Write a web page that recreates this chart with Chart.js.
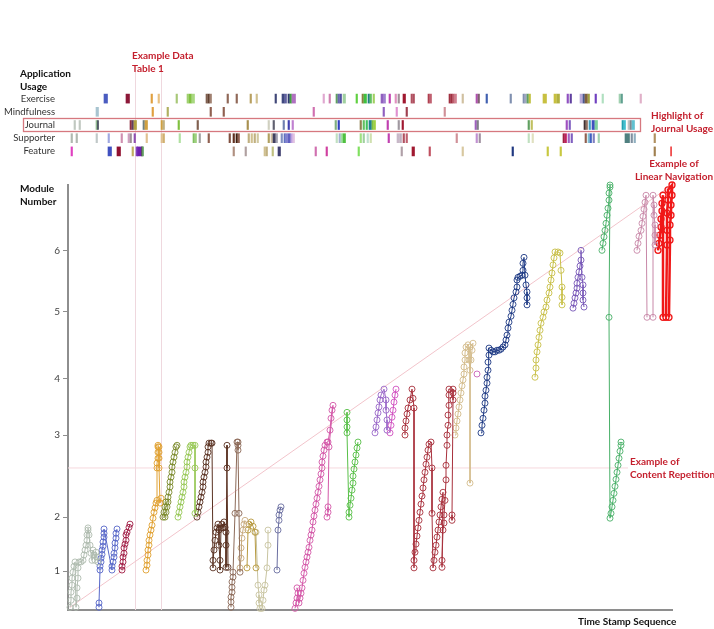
<!DOCTYPE html>
<html>
<head>
<meta charset="utf-8">
<script src="https://cdn.jsdelivr.net/npm/chart.js@4.4.1/dist/chart.umd.min.js"></script>
<style>
  body { margin: 0; background: #fff; width: 714px; height: 629px; position: relative; overflow: hidden; font-family: Lato, "Open Sans", sans-serif; }
  canvas { position: absolute; left: 0; }
  #main { top: 0; }
  #usage { top: 92px; }
  .lbl { position: absolute; font-weight: bold; font-size: 10px; line-height: 13px; color: #111; white-space: nowrap; }
  .note { color: #c41f2d; }
</style>
</head>
<body>
<canvas id="main" width="714" height="629"></canvas>
<canvas id="usage" width="714" height="66"></canvas>

<div class="lbl" style="left:20px;top:67px">Application<br>Usage</div>
<div class="lbl" style="left:20px;top:182px">Module<br>Number</div>
<div class="lbl" style="left:578px;top:615px">Time Stamp Sequence</div>
<div class="lbl note" style="left:132px;top:49px">Example Data<br>Table 1</div>
<div class="lbl note" style="left:651px;top:109px">Highlight of<br>Journal Usage</div>
<div class="lbl note" style="left:634px;top:157px;width:80px;text-align:center">Example of<br>Linear Navigation</div>
<div class="lbl note" style="left:630px;top:455px">Example of<br>Content Repetition</div>

<script>
// ---- application usage strips: [start, end] in time stamp units ----
var usageRows = ["Exercise", "Mindfulness", "Journal", "Supporter", "Feature"];

var exerciseUse = [[36,39.5],[58,61.5],[83,84.5],[90,91.5],[108,109.5],[119,120.5],[121,123.5],[124,126.5],[138,139.5],[140,141.5],[142,143.5],[159,160.5],[168,169.5],[182,183.5],[188,189.5],[207,208.5],[214,216.5],[217,218.5],[220,221.5],[222,223.5],[224,227.5],[255,256.5],[261,262.5],[268,269.5],[270,271.5],[272,273.5],[275,277.5],[288,289.5],[294,295.5],[296,298.5],[300,301.5],[302,303.5],[305,306.5],[313,315.5],[316,317.5],[321,322.5],[327,328.5],[330,331.5],[335,337.5],[343,344.5],[345,346.5],[360,361.5],[362,363.5],[381,382.5],[383,384.5],[385,386.5],[387,388.5],[394,395.5],[408,409.5],[410,411.5],[418,419.5],[442,443.5],[455,456.5],[457,458.5],[459,460.5],[461,462.5],[475,478.5],[486,488.5],[489,491.5],[499,500.5],[502,503.5],[512,514.5],[515,516.5],[517,519.5],[520,521.5],[527,528.5],[534,535.5],[551,552.5],[553,554.5],[572,573.5]];
var mindfulnessUse = [[28,30.5],[84,85.5],[99,100.5],[142,143.5],[155,156.5],[245,246.5],[315,316.5],[328,329.5],[338,339.5],[376,377.5]];
var journalUse = [[6,7.5],[11,12.5],[28,29.5],[29.5,30.5],[62,63.5],[64,65.5],[66,68.5],[75,76.5],[77,79.5],[93,94.5],[95,96.5],[110,111.5],[129,130.5],[179,180.5],[200,201.5],[205,206.5],[215,216.5],[220,221.5],[224,225.5],[267,268.5],[270,271.5],[292,293.5],[295,296.5],[298,299.5],[301,303.5],[304,305.5],[306,307.5],[319,320.5],[330,331.5],[334,335.5],[407,408.5],[409,410.5],[460,461.5],[463,464.5],[498,499.5],[501,502.5],[516,517.5],[518,519.5],[521,522.5],[524,526.5],[527,529.5],[554,555.5],[556,557.5],[560,561.5],[562,563.5],[564,566.5]];
var supporterUse = [[3,4.5],[8,9.5],[28,29.5],[40,41.5],[53,54.5],[60,61.5],[62,63.5],[66,67.5],[78,79.5],[93,94.5],[95,96.5],[111,112.5],[125,126.5],[127,128.5],[131,132.5],[140,141.5],[161,162.5],[165,166.5],[168,169.5],[170,171.5],[180,181.5],[183,184.5],[186,187.5],[189,190.5],[200,201.5],[203,204.5],[205,207.5],[208,209.5],[213,214.5],[216,217.5],[218,219.5],[220,222.5],[223,224.5],[225,226.5],[268,269.5],[271,272.5],[273,274.5],[275,277.5],[292,293.5],[295,296.5],[299,300.5],[302,303.5],[320,321.5],[329,331.5],[332,333.5],[335,336.5],[338,339.5],[388,389.5],[408,409.5],[411,412.5],[460,461.5],[464,465.5],[495,496.5],[497,498.5],[500,501.5],[503,504.5],[517,518.5],[520,521.5],[522,523.5],[525,526.5],[530,531.5],[557,561.5],[563,564.5],[566,567.5],[586,587.5]];
var featureUse = [[3,4.5],[40,43.5],[49,52.5],[64,65.5],[68,69.5],[69.5,73.5],[73.5,74.5],[74.5,75.5],[165,166.5],[177,178.5],[196,197.5],[198,199.5],[204,205.5],[210,212.5],[247,248.5],[258,259.5],[290,291.5],[333,334.5],[344,346.5],[361,362.5],[394,395.5],[444,445.5],[479,480.5],[492,493.5],[586,587.5],[602.5,604]];

// colour of each mark, same order as above
var exerciseHue = ['#4a5cc0','#8c1838','#e0a040','#e8c080','#a8c878','#a0d070','#80c040','#a8d880','#806050','#604030','#a08070','#906858','#906858','#b8a060','#d0c090','#404878','#404880','#6060a0','#303870','#40a040','#b070c0','#e0a8d0','#d080b0','#60a060','#6868b0','#5050a0','#a0d0a0','#60d040','#888040','#40c040','#208080','#60c060','#a0d060','#9060c0','#a080d0','#c040b0','#e090c0','#a09098','#a01830','#b05060','#b05060','#b04050','#c06070','#a03040','#a03040','#c06070','#d08090','#d0c0a0','#b050b0','#806070','#4060b0','#8090b0','#8090b0','#a0a8c0','#60a060','#c0c040','#c8c040','#c8c040','#b0b040','#9050c0','#6040a0','#b8a8d8','#4a5a90','#806040','#a0a040','#7040c0','#b0e0c0','#a0d0b0','#60a090','#e0b0c8'];
var mindfulnessHue = ['#a8c4d0','#e0a040','#b0b060','#906050','#906050','#d070b0','#9060c0','#e090d0','#a04050','#d09098'];
var journalHue = ['#c0c8c0','#c0c8c0','#90b890','#404858','#903040','#604060','#b0a040','#708080','#d0a040','#d0a040','#c0b080','#80c040','#806050','#a89050','#d0d0c0','#606070','#7080b0','#4040b0','#c080d0','#80b080','#3040c0','#908050','#60c060','#40c060','#208090','#80c040','#a0d040','#c040b0','#a098a0','#a01830','#a060c0','#808088','#60a060','#c0c060','#a050c0','#8060c0','#403030','#907060','#40a0c0','#4050c0','#80d0a0','#20a0b0','#40c0d0','#c0c0c0','#808890','#60c0d0'];
var supporterHue = ['#b0b8b0','#b0b8b0','#c0c8c8','#a0a8e0','#d090b0','#d0a0c0','#a09098','#9050b0','#e0c090','#e0c090','#d0b070','#b0e0a0','#80c060','#a0d080','#a0a0a0','#906050','#805040','#603020','#402010','#906050','#c0b080','#d0c090','#c0b080','#d0c8a0','#b0a060','#d0c0a0','#404060','#a0a0b0','#8090c0','#6070c0','#8080d0','#6060c0','#c0a0e0','#e0c0e0','#c0e0c0','#a0b0d0','#a0e0a0','#50c040','#a0e080','#a0d0a0','#c0e0d0','#d0e0b0','#c040b0','#c8b8c8','#c0b0c0','#b05060','#c06070','#d09098','#c090d0','#a090a0','#c0e0c0','#e0e0c0','#a02040','#c02060','#a060c0','#8060c0','#906050','#80c0d0','#4060c0','#8080c0','#a0d0b0','#508080','#8090a0','#90b0c0','#b09060'];
var featureHue = ['#e040c0','#4050c0','#901030','#c0b060','#8040c0','#7020b0','#505050','#60a060','#b09080','#b0a0a0','#d0c090','#c0b080','#c0c080','#404070','#d070b0','#d040a0','#80e060','#b0a0a8','#a01830','#c05060','#d8c8a0','#203880','#c8c840','#c8c840','#a08050','#f05050'];

// ---- module progress traces: [time stamp, module level] ----
var moduleTicks = [1, 2, 3.52, 4.56, 5.80, 6.93];
var moduleLabels = ["1", "2", "3", "4", "5", "6"];

var seqGray = [[2,.33],[3,.46],[3,.61],[4,.74],[4,.87],[5,.98],[6,1.09],[7,1.17],[8,.33],[9,.5],[9,.69],[10,.87],[10,1.06],[11,1.17],[13,1.17],[15,1.2],[16,1.3],[17,1.39],[18,1.48],[19,1.57],[19,1.67],[20,1.76],[20,1.8],[21,1.67],[22,1.48],[23,1.33],[24,1.2],[25,1.39],[26,1.3],[27,1.2],[28,1.35],[29,1.26],[30,1.17]];
var seqBlue = [[31,.33],[31,.41],[32,1.02],[32,1.09],[33,1.17],[33,1.24],[34,1.31],[34,1.39],[35,1.46],[35,1.54],[36,1.63],[36,1.7],[36,1.78],[44,1.02],[44,1.09],[45,1.17],[46,1.26],[46,1.33],[47,1.43],[47,1.52],[48,1.61],[48,1.7],[49,1.78]];
var seqCrimson = [[54,1.02],[54,1.09],[55,1.17],[55,1.26],[56,1.33],[56,1.43],[57,1.5],[58,1.57],[58,1.67],[59,1.72],[61,1.81],[62,1.87]];
var seqOrange = [[78,1.02],[79,1.11],[79,1.2],[80,1.3],[80,1.39],[81,1.48],[81,1.57],[82,1.67],[83,1.76],[84,1.85],[85,1.98],[86,2.09],[87,2.17],[88,2.26],[89,2.31],[89,2.91],[89,3],[90,3.09],[90,3.2],[90,3.3],[90,3.33],[91,3.3],[91,3.2],[91,3.09],[91,2.91],[92,2.26],[93,2.35]];
var seqOlive = [[95,2],[97,2],[96,2.09],[98,2.09],[97,2.19],[99,2.19],[98,2.28],[100,2.28],[100,2.37],[101,2.46],[102,2.56],[102,2.65],[103,2.74],[104,2.83],[104,2.93],[105,3.02],[106,3.11],[107,3.2],[108,3.3],[109,3.33]];
var seqLime = [[110,2],[111,2.09],[112,2.19],[113,2.28],[114,2.37],[115,2.46],[116,2.56],[116,2.65],[117,2.74],[118,2.83],[119,2.93],[119,3.02],[120,3.11],[121,3.2],[122,3.3],[123,3.33],[125,3.33],[127,3.33],[127,2.91],[127,2.07]];
var seqDarkBrown = [[129,2],[130,2.09],[131,2.19],[132,2.28],[133,2.37],[134,2.46],[135,2.56],[135,2.65],[136,2.74],[137,2.83],[138,2.93],[138,3.02],[139,3.11],[140,3.2],[140,3.3],[141,3.37],[143,3.37],[144,3.37],[145,1.06],[145,1.2],[146,1.39],[147,1.57],[148,1.72],[149,1.8],[150,1.87],[151,1.76],[151,1.48],[152,1.2],[152,1.02],[153,1.8],[154,1.87],[155,1.8],[156,1.91],[157,1.81],[158,1.72],[158,1.48],[158,1.07],[159,3.33],[159,2.91],[160,1.07]];
var seqBrown = [[163,.33],[163,.43],[163,.52],[164,.61],[164,.7],[164,.8],[165,.89],[165,.98],[167,2.07],[169,3.39],[170,3.39],[170,3.33],[170,3.24],[171,2.07],[172,.98]];
var seqTan1 = [[172,1.06],[173,1.24],[173,1.43],[174,1.61],[175,1.76],[176,1.87],[177,1.94]];
var seqOchre = [[179,1.06],[180,1.76],[181,1.87],[183,1.91],[185,1.83],[187,1.72],[188,1.06]];
var seqKhaki = [[188,1.72],[190,.74],[191,.56],[191,.41],[192,.31],[194,.31],[195,.46],[196,.65],[197,.74],[199,1.06],[200,1.48],[200,1.76]];
var seqSlate = [[209,1.02],[210,1.76],[211,1.94],[211,2.04],[212,2.13],[213,2.19]];
var seqPink = [[227,.31],[228,.41],[229,.5],[230,.59],[229,.69],[231,.41],[232,.5],[233,.59],[234,.69],[235,.83],[236,.96],[237,1.07],[238,1.17],[239,1.26],[240,1.35],[241,1.44],[242,1.57],[243,1.67],[244,1.76],[245,1.91],[246,2.02],[247,2.13],[248,2.24],[249,2.35],[250,2.46],[251,2.57],[252,2.69],[253,2.8],[254,2.91],[254,3.02],[255,3.13],[256,3.24],[257,3.33],[259,3.39],[260,3.39],[262,3.61],[263,3.83],[264,3.98],[265,4.07],[261,3.3],[260,2.19],[260,2.09],[259,2]];
var seqGreen = [[279,3.94],[279,3.8],[279,3.67],[279,3.56],[281,2],[281,2.09],[282,2.22],[283,2.35],[284,2.5],[285,2.63],[285,2.76],[286,2.89],[287,3.02],[288,3.15],[289,3.28],[290,3.39]];
var seqPurple = [[307,3.56],[308,3.67],[309,3.8],[310,3.93],[311,4.04],[312,4.17],[313,4.26],[316,4.37],[318,4.17],[318,3.98],[319,3.8],[319,3.61]];
var seqOrchid = [[322,3.56],[323,3.7],[324,3.85],[325,3.98],[326,4.13],[327,4.26],[328,4.37]];
var seqMaroon = [[337,3.52],[337,3.65],[338,3.78],[339,3.91],[340,4.02],[342,4.17],[344,4.37],[345,4.2],[346,4.02],[346,1.06],[346,1.2],[347,1.35],[348,1.5],[349,1.65],[350,1.8],[351,1.94],[352,2.09],[353,2.24],[354,2.39],[355,2.54],[356,2.69],[357,2.83],[358,2.98],[359,3.11],[360,3.24],[361,3.35],[363,3.39],[364,2.91],[364,2.07],[365,1.06],[366,1.2],[367,1.35],[368,1.48],[369,1.63],[370,1.76],[371,1.91],[372,2.04],[373,2.19],[374,2.33],[375,2.46],[374,1.07],[374,1.2],[375,1.76],[376,1.89],[376,2.04],[377,2.31],[378,2.69],[378,2.96],[379,3.33],[379,3.52],[380,3.7],[380,3.89],[381,4.07],[381,4.26],[381,4.37],[385,4.37],[385,4.3],[385,4.17],[384,2.04],[384,1.94]];
var seqTan = [[387,3.52],[388,3.65],[389,3.78],[390,3.91],[391,4.04],[392,4.17],[393,4.3],[394,4.43],[395,4.54],[396,4.65],[396,4.78],[397,4.91],[397,5.04],[398,5.15],[400,5.19],[401,4.91],[402,4.72],[403,4.91],[404,5.09],[405,5.22],[402,5.15],[402,2.63]];
var seqLoneDot = [[409,4.65]];
var seqNavy = [[413,3.56],[414,3.7],[415,3.83],[416,3.98],[417,4.11],[417,4.24],[418,4.35],[419,4.48],[419,4.59],[420,4.72],[420,4.87],[421,5],[421,5.13],[423,5.09],[425,5.06],[427,5.06],[429,5.09],[431,5.09],[433,5.11],[435,5.15],[437,5.19],[438,5.28],[439,5.37],[440,5.5],[441,5.61],[443,5.72],[444,5.83],[445,5.94],[446,6.06],[448,6.17],[449,6.26],[449,6.39],[450,6.44],[452,6.46],[454,6.48],[455,6.57],[455,6.7],[456,6.81],[457,6.48],[458,6.3],[459,6.17],[459,6.06],[459,5.93]];
var seqYellow = [[467,4.59],[468,4.76],[468,4.91],[469,5.06],[470,5.19],[471,5.33],[472,5.46],[473,5.59],[475,5.7],[476,5.8],[478,5.89],[479,6.02],[481,6.15],[482,6.26],[483,6.39],[484,6.52],[485,6.67],[486,6.8],[487,6.91],[490,6.91],[492,6.89],[493,6.57],[494,6.26],[494,6.07],[494,5.93]];
var seqViolet = [[505,5.87],[506,5.96],[507,6.06],[508,6.15],[509,6.24],[509,6.33],[510,6.44],[511,6.54],[512,6.65],[513,6.76],[513,6.94],[514,6.44],[515,6.3],[515,6.15],[515,6.02],[516,5.89]];
var seqJade = [[534,6.94],[535,7.07],[536,7.19],[537,7.31],[538,7.44],[539,7.59],[540,7.72],[541,7.87],[541,8],[542,8.11],[542,8.15],[541,5.7],[542,1.98],[543,2.07],[544,2.19],[545,2.31],[546,2.44],[547,2.57],[548,2.7],[549,2.83],[550,2.96],[551,3.09],[552,3.22],[553,3.33],[553,3.39]];
var seqMauveA = [[569,6.94],[570,7.07],[571,7.2],[573,7.31],[574,7.44],[575,7.57],[576,7.7],[577,7.83],[578,7.96],[579,5.7]];
var seqMauveB = [[585,5.7],[585,7.96],[586,7.78],[586,7.59],[587,7.41],[587,7.22],[587,7.04]];
var seqRedA = [[590,6.94],[591,7.07],[592,7.22],[593,7.37],[593,7.52],[594,7.67],[594,7.81],[595,7.96],[595,5.7]];
var seqRedB = [[598,5.7],[599,7.04],[599,7.31],[599,7.63],[600,7.87],[600,8.06],[604,8.15],[604,7.96],[603,7.78],[603,7.59],[602,7.41],[602,7.13],[601,5.7]];

var diagonalRef = [[2,0.33],[604,8.15]];
var repetitionRef = [[0,2.91],[560,2.91]];
var tableOneAt = [67, 93];

var traces = [
  ["#b0bcb0", seqGray], ["#5868c8", seqBlue], ["#a01c44", seqCrimson], ["#e0a030", seqOrange],
  ["#7c8a2c", seqOlive], ["#98c858", seqLime], ["#5a3222", seqDarkBrown], ["#8c6a58", seqBrown],
  ["#c8ac80", seqTan1], ["#b89a40", seqOchre], ["#c8c4a0", seqKhaki], ["#6a6ea0", seqSlate],
  ["#d458a8", seqPink], ["#58c048", seqGreen], ["#9a68c8", seqPurple], ["#d050c0", seqOrchid],
  ["#a8303c", seqMaroon], ["#d4bc8c", seqTan], ["#c860b8", seqLoneDot], ["#1e3a84", seqNavy],
  ["#c8c048", seqYellow], ["#7858b8", seqViolet], ["#48b068", seqJade],
  ["#c888a8", seqMauveA], ["#c888a8", seqMauveB], ["#f01818", seqRedA], ["#f01818", seqRedB]
];

function pts(arr) {
  return arr.map(function (p) { return { x: p[0], y: p[1] }; });
}

var moduleSets = traces.map(function (t) {
  var thick = t[0] === "#f01818";
  return {
    data: pts(t[1]),
    showLine: true,
    borderColor: t[0],
    borderWidth: thick ? 2.5 : 1,
    pointRadius: 3,
    pointHoverRadius: 3,
    pointBorderWidth: thick ? 1.3 : 0.9,
    pointBorderColor: t[0],
    pointBackgroundColor: "rgba(255,255,255,0)",
    clip: false,
    order: 1,
  };
});

moduleSets.push({
  data: pts(diagonalRef), showLine: true, borderColor: "#f2c4cb", borderWidth: 1,
  pointRadius: 0, order: 10,
});
moduleSets.push({
  data: pts(repetitionRef), showLine: true, borderColor: "#f6d8dd", borderWidth: 1,
  pointRadius: 0, order: 10,
});

// faint vertical guides for "Example Data Table 1"
var guideLines = {
  id: "guides",
  beforeDatasetsDraw: function (chart) {
    var ctx = chart.ctx, x = chart.scales.x;
    ctx.save();
    ctx.strokeStyle = "#efd8de";
    ctx.lineWidth = 1;
    tableOneAt.forEach(function (v) {
      var px = Math.round(x.getPixelForValue(v)) + 0.5;
      ctx.beginPath();
      ctx.moveTo(px, 72);
      ctx.lineTo(px, chart.chartArea.bottom);
      ctx.stroke();
    });
    ctx.restore();
  },
};

Chart.defaults.font.family = "Lato, 'Open Sans', sans-serif";

new Chart(document.getElementById("main"), {
  type: "scatter",
  data: { datasets: moduleSets },
  options: {
    responsive: false,
    animation: false,
    layout: { padding: { top: 185, right: 42, bottom: 19, left: 0 } },
    plugins: { legend: { display: false }, tooltip: { enabled: false } },
    scales: {
      x: {
        type: "linear", min: 0, max: 604,
        ticks: { display: false },
        grid: { display: false },
        border: { display: true, color: "#8e8e8e", width: 2 },
        afterFit: function (s) { s.height = 0; },
      },
      y: {
        type: "linear", min: 0.28, max: 8.15,
        afterBuildTicks: function (s) {
          s.ticks = moduleTicks.map(function (v) { return { value: v }; });
        },
        ticks: {
          callback: function (v, i) { return moduleLabels[i]; },
          font: { size: 10 }, color: "#444", padding: 3,
        },
        grid: { display: true, drawOnChartArea: false, drawTicks: true, tickLength: 5, color: "#8e8e8e" },
        border: { display: true, color: "#8e8e8e", width: 2 },
        afterFit: function (s) { s.width = 68; },
      },
    },
  },
  plugins: [guideLines],
});

// ---- usage strip chart (rows 0..4 on a linear axis) ----
var rowUse = [exerciseUse, mindfulnessUse, journalUse, supporterUse, featureUse];
var rowHue = [exerciseHue, mindfulnessHue, journalHue, supporterHue, featureHue];
var marks = [], markColors = [];
rowUse.forEach(function (list, r) {
  list.forEach(function (m, i) {
    marks.push({ x: m, y: r });
    markColors.push(rowHue[r][i] || "#999");
  });
});

var journalBox = {
  id: "journalBox",
  afterDatasetsDraw: function (chart) {
    var ctx = chart.ctx, y = chart.scales.y.getPixelForValue(2);
    var right = chart.scales.x.getPixelForValue(572);
    ctx.save();
    ctx.strokeStyle = "#d6787f";
    ctx.lineWidth = 1.3;
    ctx.strokeRect(23.5, Math.round(y - 7) + 0.5, right - 23, 13);
    ctx.restore();
  },
};

new Chart(document.getElementById("usage"), {
  type: "bar",
  data: {
    datasets: [{
      data: marks,
      backgroundColor: markColors,
      borderWidth: 0,
      borderSkipped: false,
      barThickness: 9,
      minBarLength: 1,
    }],
  },
  options: {
    indexAxis: "y",
    responsive: false,
    animation: false,
    layout: { padding: 0 },
    plugins: { legend: { display: false }, tooltip: { enabled: false } },
    scales: {
      x: {
        type: "linear", min: 0, max: 604, display: true,
        ticks: { display: false }, grid: { display: false }, border: { display: false },
        afterFit: function (s) { s.height = 0; s.paddingRight = 0; },
      },
      y: {
        type: "linear", min: -0.5, max: 4.5, reverse: true, offset: false,
        afterBuildTicks: function (s) {
          s.ticks = usageRows.map(function (n, i) { return { value: i }; });
        },
        grid: { display: false, tickLength: 0 },
        border: { display: false },
        ticks: {
          autoSkip: false,
          callback: function (v, i) { return usageRows[i]; },
          font: { size: 9.5 }, color: "#333", padding: 13,
        },
        afterFit: function (s) { s.width = 68; s.paddingTop = 0; s.paddingBottom = 0; },
      },
    },
  },
  plugins: [journalBox, {
    id: "stripArea",
    beforeLayout: function (chart) {
      chart.options.layout.padding = { top: 0, bottom: 0, left: 0, right: 42 };
    },
  }],
});
</script>
</body>
</html>
